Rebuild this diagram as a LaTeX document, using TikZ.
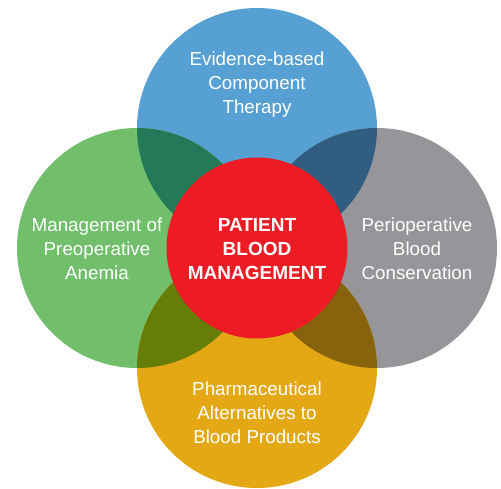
\documentclass[tikz,border=0pt]{standalone}
\usepackage{fontspec}
\setmainfont{Liberation Sans}
\usepackage{tikz}

\definecolor{pbmBlue}{RGB}{87,160,211}
\definecolor{pbmGreen}{RGB}{113,191,106}
\definecolor{pbmGrey}{RGB}{150,150,154}
\definecolor{pbmOrange}{RGB}{227,168,20}
\definecolor{pbmRed}{RGB}{237,28,36}
\definecolor{blueGreen}{RGB}{36,122,88}
\definecolor{blueGrey}{RGB}{49,94,128}
\definecolor{greenOrange}{RGB}{102,125,8}
\definecolor{greyOrange}{RGB}{134,99,12}

\begin{document}
\begin{tikzpicture}[x=1pt,y=1pt]
\tikzstyle{every node}+=[inner sep=0pt]
\tikzstyle{ringtext}=[text=white, align=center, font=\fontsize{18.8}{24}\selectfont]
\useasboundingbox (0,0) rectangle (501,-489);
\fill [pbmBlue] (257,-128) circle (120);
\fill [pbmGreen] (137,-248) circle (120);
\fill [pbmGrey] (377,-248) circle (120);
\fill [pbmOrange] (257,-368) circle (120);
\begin{scope}
\clip (257,-128) circle (120);
\fill [blueGreen] (137,-248) circle (120);
\fill [blueGrey] (377,-248) circle (120);
\end{scope}
\begin{scope}
\clip (257,-368) circle (120);
\fill [greenOrange] (137,-248) circle (120);
\fill [greyOrange] (377,-248) circle (120);
\end{scope}
\fill [pbmRed] (257,-248) circle (90.5);
\node [ringtext] (therapy) at (257,-85) {Evidence-based\\Component\\Therapy};
\node [ringtext] (anemia) at (97,-249) {Management of\\Preoperative\\Anemia};
\node [ringtext] (conservation) at (417,-249) {Perioperative\\Blood\\Conservation};
\node [ringtext] (alternatives) at (257,-413) {Pharmaceutical\\Alternatives to\\Blood Products};
\node [ringtext, font=\fontsize{19}{24}\selectfont\bfseries] (pbm) at (257,-249) {PATIENT\\BLOOD\\MANAGEMENT};
\end{tikzpicture}
\end{document}
